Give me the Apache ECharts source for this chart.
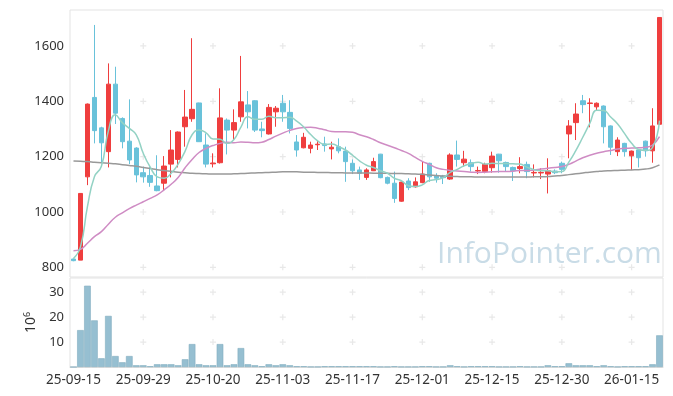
<!DOCTYPE html>
<html><head><meta charset="utf-8">
<script src="https://cdn.jsdelivr.net/npm/echarts@6/dist/echarts.min.js"></script>
<style>html,body{margin:0;padding:0;background:#fff}#c{width:673px;height:396px}</style>
</head><body><div id="c"></div>
<script>
const dates = ['25-09-15','25-09-16','25-09-17','25-09-18','25-09-19','25-09-22','25-09-23','25-09-24','25-09-25','25-09-26',
'25-09-29','25-09-30','25-10-01','25-10-02','25-10-10','25-10-13','25-10-14','25-10-15','25-10-16','25-10-17',
'25-10-20','25-10-21','25-10-22','25-10-23','25-10-24','25-10-27','25-10-28','25-10-29','25-10-30','25-10-31',
'25-11-03','25-11-04','25-11-05','25-11-06','25-11-07','25-11-10','25-11-11','25-11-12','25-11-13','25-11-14',
'25-11-17','25-11-18','25-11-19','25-11-20','25-11-21','25-11-24','25-11-25','25-11-26','25-11-27','25-11-28',
'25-12-01','25-12-02','25-12-03','25-12-04','25-12-05','25-12-08','25-12-09','25-12-10','25-12-11','25-12-12',
'25-12-15','25-12-16','25-12-17','25-12-18','25-12-19','25-12-22','25-12-23','25-12-24','25-12-26','25-12-29',
'25-12-30','26-01-02','26-01-05','26-01-06','26-01-07','26-01-08','26-01-09','26-01-12','26-01-13','26-01-14',
'26-01-15','26-01-16','26-01-19','26-01-20','26-01-21'];
const openP = [830,826,1127,1414,1304,1218,1462,1338,1256,1231,1142,1132,1094,1104,1173,1190,1308,1337,1394,1242,
1174,1178,1332,1296,1344,1387,1402,1300,1282,1362,1393,1360,1253,1232,1230,1243,1246,1228,1236,1220,
1176,1152,1125,1149,1209,1125,1104,1039,1112,1091,1106,1176,1130,1130,1119,1206,1178,1178,1148,1146,
1160,1209,1179,1161,1157,1172,1141,1141,1137,1148,1176,1282,1323,1402,1392,1380,1383,1311,1218,1248,
1203,1224,1256,1221,1317];
const closeP = [824,1067,1390,1294,1250,1462,1357,1254,1188,1134,1127,1107,1077,1166,1224,1289,1343,1371,1254,1173,
1177,1340,1296,1323,1398,1362,1296,1294,1378,1375,1362,1302,1224,1270,1242,1245,1240,1234,1221,1182,
1149,1140,1152,1182,1124,1104,1049,1108,1088,1109,1137,1127,1122,1124,1206,1190,1191,1164,1150,1172,
1202,1185,1164,1149,1164,1146,1143,1143,1149,1142,1154,1311,1354,1388,1394,1393,1308,1234,1260,1218,
1220,1196,1221,1311,1703];
const lowP = [822,826,1097,1248,1176,1161,1318,1230,1173,1107,1106,1091,1075,1077,1125,1161,1236,1326,1253,1161,
1161,1175,1208,1260,1326,1302,1289,1270,1280,1308,1326,1284,1200,1230,1212,1224,1218,1190,1212,1109,
1137,1116,1116,1148,1122,1100,1033,1037,1079,1088,1104,1109,1106,1101,1116,1164,1164,1146,1137,1140,
1142,1142,1146,1112,1140,1122,1125,1119,1067,1137,1140,1194,1260,1357,1306,1368,1248,1206,1202,1200,
1152,1161,1200,1178,1317];
const highP = [832,1067,1392,1676,1308,1537,1525,1342,1407,1234,1164,1164,1205,1202,1296,1291,1441,1628,1395,1284,
1212,1447,1338,1371,1564,1437,1404,1326,1390,1383,1423,1404,1278,1286,1254,1260,1272,1254,1266,1236,
1190,1164,1158,1196,1210,1128,1146,1110,1122,1125,1182,1178,1140,1134,1212,1258,1221,1190,1164,1178,
1218,1210,1182,1164,1198,1182,1172,1158,1194,1154,1182,1332,1393,1423,1411,1396,1385,1313,1270,1250,
1222,1226,1258,1375,1703];
const ma5 = [832,874,1019,1127,1165,1293,1351,1323,1302,1279,1212,1162,1127,1122,1140,1173,1220,1279,1296,1286,
1264,1263,1248,1262,1307,1344,1335,1335,1346,1341,1341,1342,1328,1307,1280,1257,1244,1246,1236,1224,
1205,1185,1169,1161,1149,1140,1122,1113,1095,1092,1098,1114,1117,1124,1143,1154,1167,1175,1180,1173,
1176,1175,1175,1174,1173,1162,1153,1149,1149,1145,1146,1180,1222,1270,1320,1368,1367,1343,1318,1283,
1248,1226,1223,1233,1330];
const ma20 = [860,865,887,911,929,956,981,997,1012,1025,1037,1049,1062,1080,1100,1125,1160,1190,1215,1230,
1240,1248,1252,1250,1253,1252,1250,1252,1262,1274,1285,1295,1302,1305,1306,1303,1297,1291,1290,1290,
1288,1279,1272,1262,1250,1241,1232,1222,1212,1197,1183,1172,1160,1154,1150,1148,1146,1144,1143,1144,
1145,1146,1146,1147,1150,1150,1152,1155,1158,1161,1164,1172,1184,1196,1205,1212,1218,1222,1228,1230,
1231,1232,1234,1242,1272];
const ma60 = [1184,1183,1182,1180,1178,1176,1174,1171,1168,1165,1161,1157,1153,1150,1147,1144,1142,1140,1139,1138,
1137,1137,1137,1138,1139,1140,1141,1142,1143,1144,1145,1145,1145,1144,1144,1143,1143,1142,1142,1141,
1141,1141,1141,1140,1140,1140,1139,1139,1138,1137,1136,1134,1132,1130,1129,1128,1127,1127,1126,1126,
1126,1126,1126,1126,1126,1126,1127,1127,1128,1130,1132,1135,1138,1141,1144,1146,1148,1149,1150,1151,
1152,1153,1155,1160,1170];
const volume = [0,14.8,32.6,18.7,3.5,20.5,4.4,1.9,4.4,0.7,0.7,0.3,1.1,1.1,1.1,0.7,3.1,9.2,1.1,0.7,
0.7,9.2,0.7,1.1,7.6,1.1,0.7,0.3,1.1,0.7,1.1,0.7,0.3,0.3,0.1,0.1,0.3,0.3,0.3,0.3,
0.3,0.3,0.3,0.3,0.1,0.1,0.3,0.1,0.1,0.1,0.3,0.3,0.1,0.1,0.7,0.3,0.1,0.3,0.3,0.3,
0.3,0.1,0.1,0.1,0.3,0.1,0.1,0.1,0.7,0.3,0.3,1.5,0.7,0.7,0.7,0.3,0.7,0.3,0.1,0.3,
0.3,0.3,0.3,1.1,12.7];
const priceTicks = [800,1000,1200,1400,1600];
const volTicks = [10,20,30];
const xTickStep = 10;

const candles = dates.map((d,i)=>[openP[i],closeP[i],lowP[i],highP[i]]);
const markCats = dates.filter((d,i)=>i>0 && i%xTickStep===0);
const pricePlus = [];
markCats.forEach(c=>priceTicks.forEach(v=>pricePlus.push([c,v])));
const volPlus = [];
markCats.forEach(c=>volTicks.forEach(v=>volPlus.push([c,v])));

const FONT = '"Noto Sans", sans-serif';
const plusPath = 'path://M4,0H6V4H10V6H6V10H4V6H0V4H4Z';
const chart = echarts.init(document.getElementById('c'));
chart.setOption({
  animation:false,
  backgroundColor:'#fff',
  graphic:[{type:'text', left:437, top:239, z:0, silent:true,
    style:{text:'InfoPointer.com', font:'30px "Open Sans", sans-serif', fill:'#c9dce7'}}],
  grid:[
    {left:70, right:10, top:10, height:267, show:true, borderColor:'#e3e3e3', borderWidth:1, backgroundColor:'transparent'},
    {left:70, right:10, top:278, height:89, show:true, borderColor:'#e3e3e3', borderWidth:1, backgroundColor:'transparent'}
  ],
  xAxis:[
    {type:'category', data:dates, gridIndex:0, boundaryGap:true, axisLine:{show:false}, axisTick:{show:false}, axisLabel:{show:false}, splitLine:{show:false}},
    {type:'category', data:dates, gridIndex:1, boundaryGap:true, axisLine:{show:true, lineStyle:{color:'#dddddd'}}, axisTick:{show:false},
      axisLabel:{interval:(i)=>i%xTickStep===0, color:'#333', fontSize:13.5, fontFamily:FONT, margin:6}, splitLine:{show:false}}
  ],
  yAxis:[
    {type:'value', gridIndex:0, min:765, max:1730, axisLine:{show:false}, axisTick:{show:false}, splitLine:{show:false},
      axisLabel:{customValues:priceTicks, formatter:(v)=>String(v), color:'#333', fontSize:13, fontFamily:FONT, margin:6}},
    {type:'value', gridIndex:1, min:0, max:35.7, axisLine:{show:false}, axisTick:{show:false}, splitLine:{show:false},
      axisLabel:{customValues:volTicks, formatter:(v)=>String(v), color:'#333', fontSize:13, fontFamily:FONT, margin:6},
      name:'10{s|6}', nameLocation:'middle', nameRotate:90, nameGap:27,
      nameTextStyle:{color:'#333', fontSize:14, fontFamily:FONT, rich:{s:{fontSize:9, verticalAlign:'top', color:'#333', fontFamily:FONT, padding:[0,0,8,0]}}}}
  ],
  series:[
    {type:'scatter', xAxisIndex:0, yAxisIndex:0, data:pricePlus, symbol:plusPath, symbolSize:6, itemStyle:{color:'#e2e2e2'}, silent:true, z:1},
    {type:'scatter', xAxisIndex:1, yAxisIndex:1, data:volPlus, symbol:plusPath, symbolSize:6, itemStyle:{color:'#e2e2e2'}, silent:true, z:1},
    {type:'candlestick', xAxisIndex:0, yAxisIndex:0, data:candles, barWidth:'72%',
      itemStyle:{color:'#ef3e3e', color0:'#69c2da', borderColor:'#ef3e3e', borderColor0:'#69c2da', borderWidth:1}, z:3},
    {type:'line', xAxisIndex:0, yAxisIndex:0, data:ma60, smooth:true, showSymbol:false, lineStyle:{color:'#999999', width:1.5}, z:4},
    {type:'line', xAxisIndex:0, yAxisIndex:0, data:ma20, smooth:true, showSymbol:false, lineStyle:{color:'#cf8cc4', width:1.5}, z:4},
    {type:'line', xAxisIndex:0, yAxisIndex:0, data:ma5, smooth:true, showSymbol:false, lineStyle:{color:'#93d2c4', width:1.5}, z:4},
    {type:'bar', xAxisIndex:1, yAxisIndex:1, data:volume, barCategoryGap:'5%',
      itemStyle:{color:'#96bfd1', borderColor:'#82acc0', borderWidth:0.6}, z:3}
  ]
});
</script></body></html>
